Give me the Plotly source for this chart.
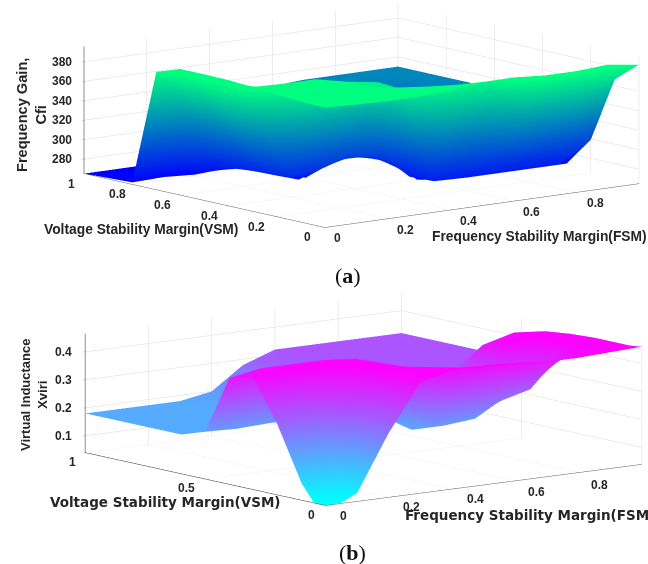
import plotly.graph_objects as go

fsm = [0, .1, .2, .3, .4, .5, .6, .7, .8, .9, 1]
vsm = [0, .1, .2, .3, .4, .5, .6, .7, .8, .9, 1]
fsm_b = [0, .05, .1, .2, .3, .4, .5, .6, .7, .8, .9, 1]
vsm_b = [0, .05, .1, .2, .3, .4, .5, .6, .7, .8, .9, 1]

cfi = [
 [388.5,387,386,386,388.5,391,392.5,390,390,392,387.5],
 [389,388,388,390,386.5,384,383,340,342,345,367],
 [391,386,388,385,378,279,278,278,278,278,299],
 [393,392,392,385,380,278,270,269,269,269,269],
 [394.6,350,285,291,300,291,265,265,265,270,280],
 [395,340,284,273,286,290,276,265,268,280,300],
 [395,345,283,272,265,280,279,265,275,295,320],
 [386.5,340,279,273,268,270,275,270,300,325,330],
 [267,268,266,268,270,272,275,285,310,328,330],
 [266,266,266,268,272,280,300,320,328,330,330],
 [265,265,265,270,285,310,328,330,330,330,330],
]

xviri = [
 [.04,.042,.07,.27,.435,.465,.46,.455,.45,.45,.455,.46],
 [.042,.045,.08,.28,.44,.46,.45,.445,.44,.435,.45,.455],
 [.10,.12,.15,.31,.45,.457,.44,.436,.43,.42,.45,.455],
 [.29,.30,.31,.40,.46,.44,.21,.22,.27,.30,.45,.455],
 [.44,.445,.45,.46,.46,.435,.18,.18,.19,.45,.46,.45],
 [.42,.43,.44,.44,.44,.43,.20,.18,.25,.42,.45,.44],
 [.21,.207,.205,.21,.21,.20,.20,.20,.25,.32,.32,.32],
 [.18,.18,.18,.18,.18,.19,.22,.25,.30,.32,.32,.32],
 [.18,.18,.18,.18,.18,.20,.28,.31,.32,.32,.32,.32],
 [.18,.18,.18,.18,.18,.20,.31,.32,.32,.32,.32,.32],
 [.18,.18,.18,.18,.18,.20,.31,.32,.32,.32,.32,.32],
 [.18,.18,.18,.18,.18,.20,.28,.32,.32,.32,.32,.32],
]

z_ticks_a = [280, 300, 320, 340, 360, 380]
z_ticks_b = [.1, .2, .3, .4]
fsm_ticks = [0, .2, .4, .6, .8]
vsm_ticks_a = [0, .2, .4, .6, .8, 1]
vsm_ticks_b = [0, .5, 1]

W, H = 648, 564
light = dict(ambient=1, diffuse=0, specular=0, roughness=1, fresnel=0)

fig = go.Figure()
fig.add_trace(go.Surface(x=fsm, y=vsm, z=cfi, scene="scene", showscale=False, cmin=265, cmax=388,
                         colorscale=[[0, "#0000ff"], [1, "#00ff80"]], lighting=light, hoverinfo="skip"))
fig.add_trace(go.Surface(x=fsm_b, y=vsm_b, z=xviri, scene="scene2", showscale=False, cmin=.042, cmax=.458,
                         colorscale=[[0, "#00ffff"], [1, "#ff00ff"]], lighting=light, hoverinfo="skip"))

def axis(rng, tv, line="#606060"):
    return dict(range=rng, tickvals=tv, showticklabels=False, title=dict(text=""),
                showbackground=False, gridcolor="#dcdcdc", gridwidth=1, zeroline=False,
                showline=True, linecolor=line, linewidth=1, ticks="outside", ticklen=2,
                tickcolor="#808080", showspikes=False)

def labels(xt, yt, zt, zlo, size, shifts):
    out = []
    f = dict(family="Liberation Sans", size=size, color="#262626")
    base = dict(showarrow=False, font=f, xanchor="center", yanchor="middle")
    for i, t in enumerate(xt):
        dx, dy = shifts["x"][i]
        out.append(dict(base, x=t, y=0, z=zlo, text=f"<b>{t:g}</b>", xshift=dx, yshift=dy))
    for i, t in enumerate(yt):
        dx, dy = shifts["y"][i]
        out.append(dict(base, x=0, y=t, z=zlo, text=f"<b>{t:g}</b>", xshift=dx, yshift=dy))
    for t in zt:
        out.append(dict(base, x=0, y=1, z=t, text=f"<b>{t:g}</b>", xshift=shifts["z"], yshift=0))
    return out

shifts_a = dict(x=[(13, -10), (18, -11), (18, -11), (18, -11), (19, -11)],
                y=[(-17, -9), (-20, -10), (-19, -10), (-18, -10), (-15, -10), (-13, -10)], z=-22)
shifts_b = dict(x=[(18, -10), (23, -10), (23, -10), (21, -11), (21, -12)],
                y=[(-14, -9), (-19, -9), (-13, -9)], z=-22)

D = 10
fig.update_layout(
    width=W, height=H, margin=dict(l=0, r=0, t=0, b=0), paper_bgcolor="white", showlegend=False,
    scene=dict(
        domain=dict(x=[75/W, 1], y=[1-230/H, 1]),
        aspectmode="manual", aspectratio=dict(x=3.48, y=3.38, z=1.124),
        camera=dict(eye=dict(x=-.61*D, y=-.772*D, z=.177*D), up=dict(x=0, y=0, z=1),
                    center=dict(x=0, y=0, z=0), projection=dict(type="orthographic")),
        xaxis=axis([0, 1], fsm_ticks),
        yaxis=axis([0, 1], vsm_ticks_a),
        zaxis=axis([265, 396], z_ticks_a, "#202020"),
        annotations=labels(fsm_ticks, vsm_ticks_a, z_ticks_a, 265, 12, shifts_a),
    ),
    scene2=dict(
        domain=dict(x=[79/W, 1], y=[1-514/H, 1-284/H]),
        aspectmode="manual", aspectratio=dict(x=3.47, y=3.43, z=1.05),
        camera=dict(eye=dict(x=-.60*D, y=-.78*D, z=.169*D), up=dict(x=0, y=0, z=1),
                    center=dict(x=0, y=0, z=0), projection=dict(type="orthographic")),
        xaxis=axis([0, 1], fsm_ticks),
        yaxis=axis([0, 1], vsm_ticks_b, "#303030"),
        zaxis=axis([.04, .465], z_ticks_b, "#202020"),
        annotations=labels(fsm_ticks, vsm_ticks_b, z_ticks_b, .04, 12, shifts_b),
    ),
)

def note(text, x, y, size, fam, rot=0, color="#262626", anchor="center"):
    fig.add_annotation(text=text, x=x/W, y=1-y/H, xref="paper", yref="paper", showarrow=False,
                       xanchor=anchor, yanchor="middle", textangle=rot,
                       font=dict(family=fam, size=size, color=color))

sans = "Liberation Sans"
wide = "DejaVu Sans"
note("<b>Frequency Gain,<br>Cfi</b>", 31, 115, 14.6, sans, -90)
note("<b>Voltage Stability Margin(VSM)</b>", 141, 229, 13.8, sans)
note("<b>Frequency Stability Margin(FSM)</b>", 539, 236, 13.8, sans)
note("(<b>a</b>)", 348, 275, 22, "Liberation Serif", 0, "#111111")
note("<b>Virtual Inductance<br>Xviri</b>", 34, 395, 13, sans, -90)
note("<b>Voltage Stability Margin(VSM)</b>", 165, 502, 13.5, wide)
note("<b>Frequency Stability Margin(FSM)</b>", 403, 515, 13.5, wide, anchor="left")
note("(<b>b</b>)", 352, 552, 22, "Liberation Serif", 0, "#111111")

fig.write_html("out.html", config=dict(displayModeBar=False), post_script="document.body.style.margin='0';")
